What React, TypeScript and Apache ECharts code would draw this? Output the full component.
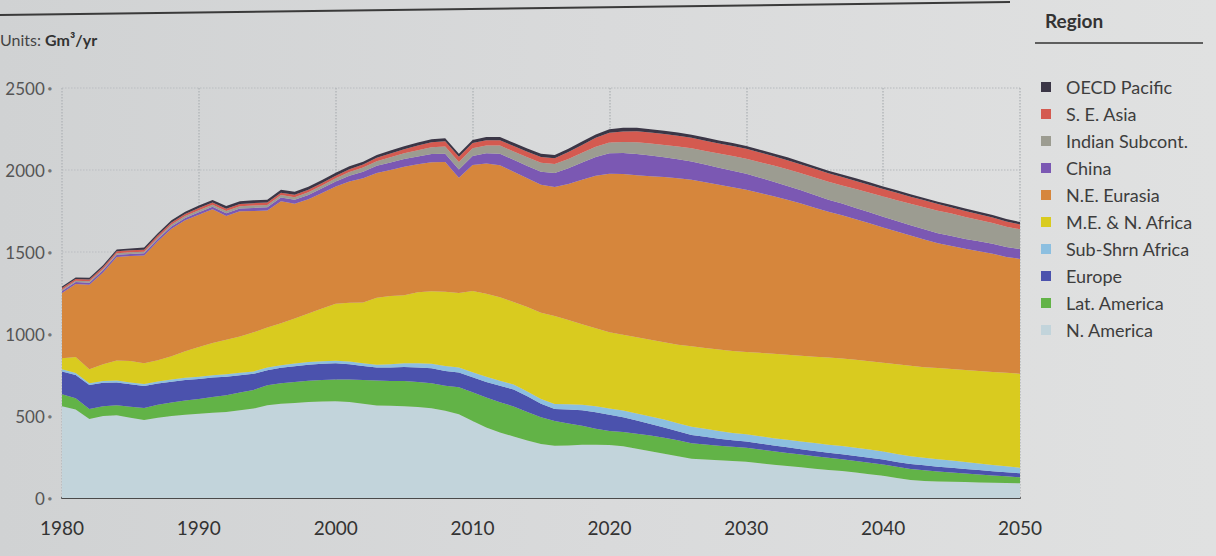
import React, { useEffect, useRef } from "react";
import * as echarts from "echarts";

const years: string[] = Array.from({ length: 71 }, (_, i) => String(1980 + i));

const nAmerica = [560,540,482,500,504,490,476,490,500,508, 513,520,525,535,545,566,575,580,585,588, 590,585,575,564,562,560,555,548,532,510, 470,430,400,375,350,330,318,320,325,325, 323,315,300,285,270,254,240,235,230,225, 221,212,203,195,187,179,171,165,155,145, 135,122,110,104,101,99,97,95,93,92, 90];
const latAmerica = [73,68,61,60,61,66,73,78,82,87, 91,96,102,108,114,121,124,127,130,132, 133,138,145,152,152,153,152,152,152,165, 175,183,184,183,175,162,152,135,115,98, 85,88,92,96,98,98,94,91,89,87, 86,84,82,80,78,76,74,72,71,70, 69,68,67,65,61,57,52,48,44,40, 36];
const europe = [139,142,146,143,140,137,134,130,127,124, 122,118,112,105,98,92,95,97,98,98, 98,92,85,79,82,86,89,91,91,90, 91,95,100,103,95,82,73,85,95,100, 100,90,80,70,62,55,50,47,43,40, 37,36,35,34,33,32,31,30,30,30, 30,30,30,30,29,28,28,27,26,25, 25];
const subShrnAfrica = [13,12,11,11,12,12,12,13,13,14, 14,14,15,15,15,16,16,16,16,16, 16,17,17,18,20,23,26,28,30,30, 31,31,31,31,30,30,30,32,34,36, 37,40,43,46,48,49,50,49,47,45, 44,44,45,46,47,48,49,50,50,50, 50,49,48,47,46,44,42,40,38,36, 34];
const meNAfrica = [67,98,85,101,122,130,127,129,143,162, 180,197,211,222,238,245,255,275,296,321, 347,358,370,408,415,414,433,441,453,455, 495,506,509,503,515,526,537,513,491,476, 465,462,465,468,472,479,491,493,496,500, 503,509,514,518,522,527,531,534,537,539, 541,547,551,552,555,558,561,564,567,570, 573];
const neEurasia = [398,445,515,560,631,640,656,725,777,798, 807,815,755,763,740,713,745,699,697,705, 716,740,758,760,769,784,780,788,791,703, 768,795,805,795,785,780,786,830,880,930, 967,980,988,997,1007,1015,1015,1010,1005,998, 989,975,961,945,928,908,889,873,857,841, 825,809,794,778,761,751,740,731,722,707, 700];
const china = [12,12,12,13,13,13,14,14,14,15, 15,16,17,18,19,20,22,24,26,28, 30,35,40,45,46,47,48,49,50,50, 55,62,70,72,75,80,85,95,105,115, 125,128,130,126,121,116,112,108,104,101, 97,93,89,85,81,77,74,71,69,67, 65,64,63,62,61,61,60,60,60,60, 60];
const indianSubcont = [8,8,9,9,9,10,10,10,11,11, 12,12,13,13,14,14,15,16,17,18, 20,23,25,28,32,35,38,42,45,46, 47,48,50,51,52,54,55,57,60,62, 65,68,71,73,75,78,80,83,86,89, 92,95,98,101,104,107,109,111,115,119, 123,127,131,135,138,136,133,130,127,124, 120];
const seAsia = [10,10,11,11,12,12,12,13,13,13, 14,14,14,14,15,15,15,15,15,15, 15,17,18,20,23,25,28,30,32,32, 32,32,32,33,34,35,36,42,48,54, 60,64,68,67,66,65,64,63,62,61, 60,59,57,56,54,53,52,51,49,48, 46,45,43,42,40,38,37,35,33,32, 30];
const oecdPacific = [10,10,11,11,12,12,13,13,14,14, 15,15,16,16,17,17,18,18,18,18, 18,18,18,18,18,18,18,18,18,18, 19,19,20,20,20,20,20,20,21,21, 22,22,21,21,20,20,19,19,18,18, 18,17,17,17,17,16,16,16,16,16, 15,15,15,15,15,15,15,15,15,15, 15];

const yTicks = [0, 500, 1000, 1500, 2000, 2500];

// stacking order bottom -> top
const layers: { name: string; values: number[]; color: string }[] = [
  { name: "N. America", values: nAmerica, color: "#c2d4db" },
  { name: "Lat. America", values: latAmerica, color: "#62b347" },
  { name: "Europe", values: europe, color: "#4b52ad" },
  { name: "Sub-Shrn Africa", values: subShrnAfrica, color: "#8cbfe0" },
  { name: "M.E. & N. Africa", values: meNAfrica, color: "#d9cb1f" },
  { name: "N.E. Eurasia", values: neEurasia, color: "#d6863c" },
  { name: "China", values: china, color: "#7b58b3" },
  { name: "Indian Subcont.", values: indianSubcont, color: "#9c9c91" },
  { name: "S. E. Asia", values: seAsia, color: "#d45a50" },
  { name: "OECD Pacific", values: oecdPacific, color: "#3b3646" },
];

const legendOrder = [
  "OECD Pacific", "S. E. Asia", "Indian Subcont.", "China", "N.E. Eurasia",
  "M.E. & N. Africa", "Sub-Shrn Africa", "Europe", "Lat. America", "N. America",
];

const FONT = "Lato, 'Open Sans', sans-serif";

export default function App() {
  const ref = useRef<HTMLDivElement>(null);
  useEffect(() => {
    if (!ref.current) return;
    const chart = echarts.init(ref.current, null, { renderer: "svg" });
    const option: any = {
      animation: false,
      backgroundColor: "transparent",
      textStyle: { fontFamily: FONT },
      grid: { left: 62, right: 196, top: 88, bottom: 58 },
      legend: {
        orient: "vertical",
        left: 1036,
        top: 73,
        icon: "rect",
        itemWidth: 10,
        itemHeight: 10,
        itemGap: 9,
        data: legendOrder,
        selectedMode: false,
        textStyle: { fontSize: 18, color: "#3d3d3d", lineHeight: 18, padding: [0, 0, 0, 10], fontFamily: FONT },
      },
      xAxis: {
        type: "category",
        data: years,
        boundaryGap: false,
        axisLine: { show: true, lineStyle: { color: "#4a4a4a", width: 2 } },
        axisTick: { show: false },
        axisLabel: { interval: 9, fontSize: 19, color: "#333", margin: 20, fontFamily: FONT },
        splitLine: { show: true, interval: 9, lineStyle: { color: "#b4b8ba", type: "dotted", width: 1.5 } },
      },
      yAxis: {
        type: "value",
        min: yTicks[0],
        max: yTicks[yTicks.length - 1],
        interval: 500,
        axisLine: { show: false },
        axisTick: { show: false },
        splitLine: { show: true, lineStyle: { color: "#c2c5c7", type: "dotted", width: 1.5 } },
        axisLabel: {
          margin: 10,
          formatter: (v: number) => `{n|${v}}{d|●}`,
          rich: {
            n: { fontSize: 17, color: "#555", fontFamily: FONT },
            d: { fontSize: 7, color: "#777", padding: [0, 0, 0, 3] },
          },
        },
      },
      graphic: [
        { type: "line", shape: { x1: 0, y1: 15, x2: 1010, y2: 2 }, style: { stroke: "#3a3a3a", lineWidth: 2 } },
        {
          type: "text",
          left: 0,
          top: 31,
          style: {
            text: "{a|Units: }{b|Gm³/yr}",
            rich: {
              a: { fontSize: 16, fill: "#444", fontFamily: FONT },
              b: { fontSize: 16, fill: "#333", fontWeight: "bold", fontFamily: FONT },
            },
          },
        },
        {
          type: "text",
          left: 1045,
          top: 11,
          style: { text: "Region", fontSize: 19, fontWeight: "bold", fill: "#333", fontFamily: FONT },
        },
        { type: "line", shape: { x1: 1035, y1: 43, x2: 1203, y2: 43 }, style: { stroke: "#333", lineWidth: 1.5 } },
      ],
      series: layers.map((l) => ({
        name: l.name,
        type: "line",
        stack: "total",
        data: l.values,
        showSymbol: false,
        symbol: "none",
        lineStyle: { width: 0 },
        itemStyle: { color: l.color },
        areaStyle: { color: l.color, opacity: 1 },
        emphasis: { disabled: true },
      })),
    };
    chart.setOption(option);
    return () => chart.dispose();
  }, []);
  return (
    <div
      style={{
        position: "fixed",
        left: 0,
        top: 0,
        width: 1216,
        height: 556,
        background: "linear-gradient(90deg, #d0d2d3 0%, #d9dadb 50%, #e0e1e1 100%)",
      }}
    >
      <div ref={ref} style={{ width: 1216, height: 556 }} />
    </div>
  );
}
